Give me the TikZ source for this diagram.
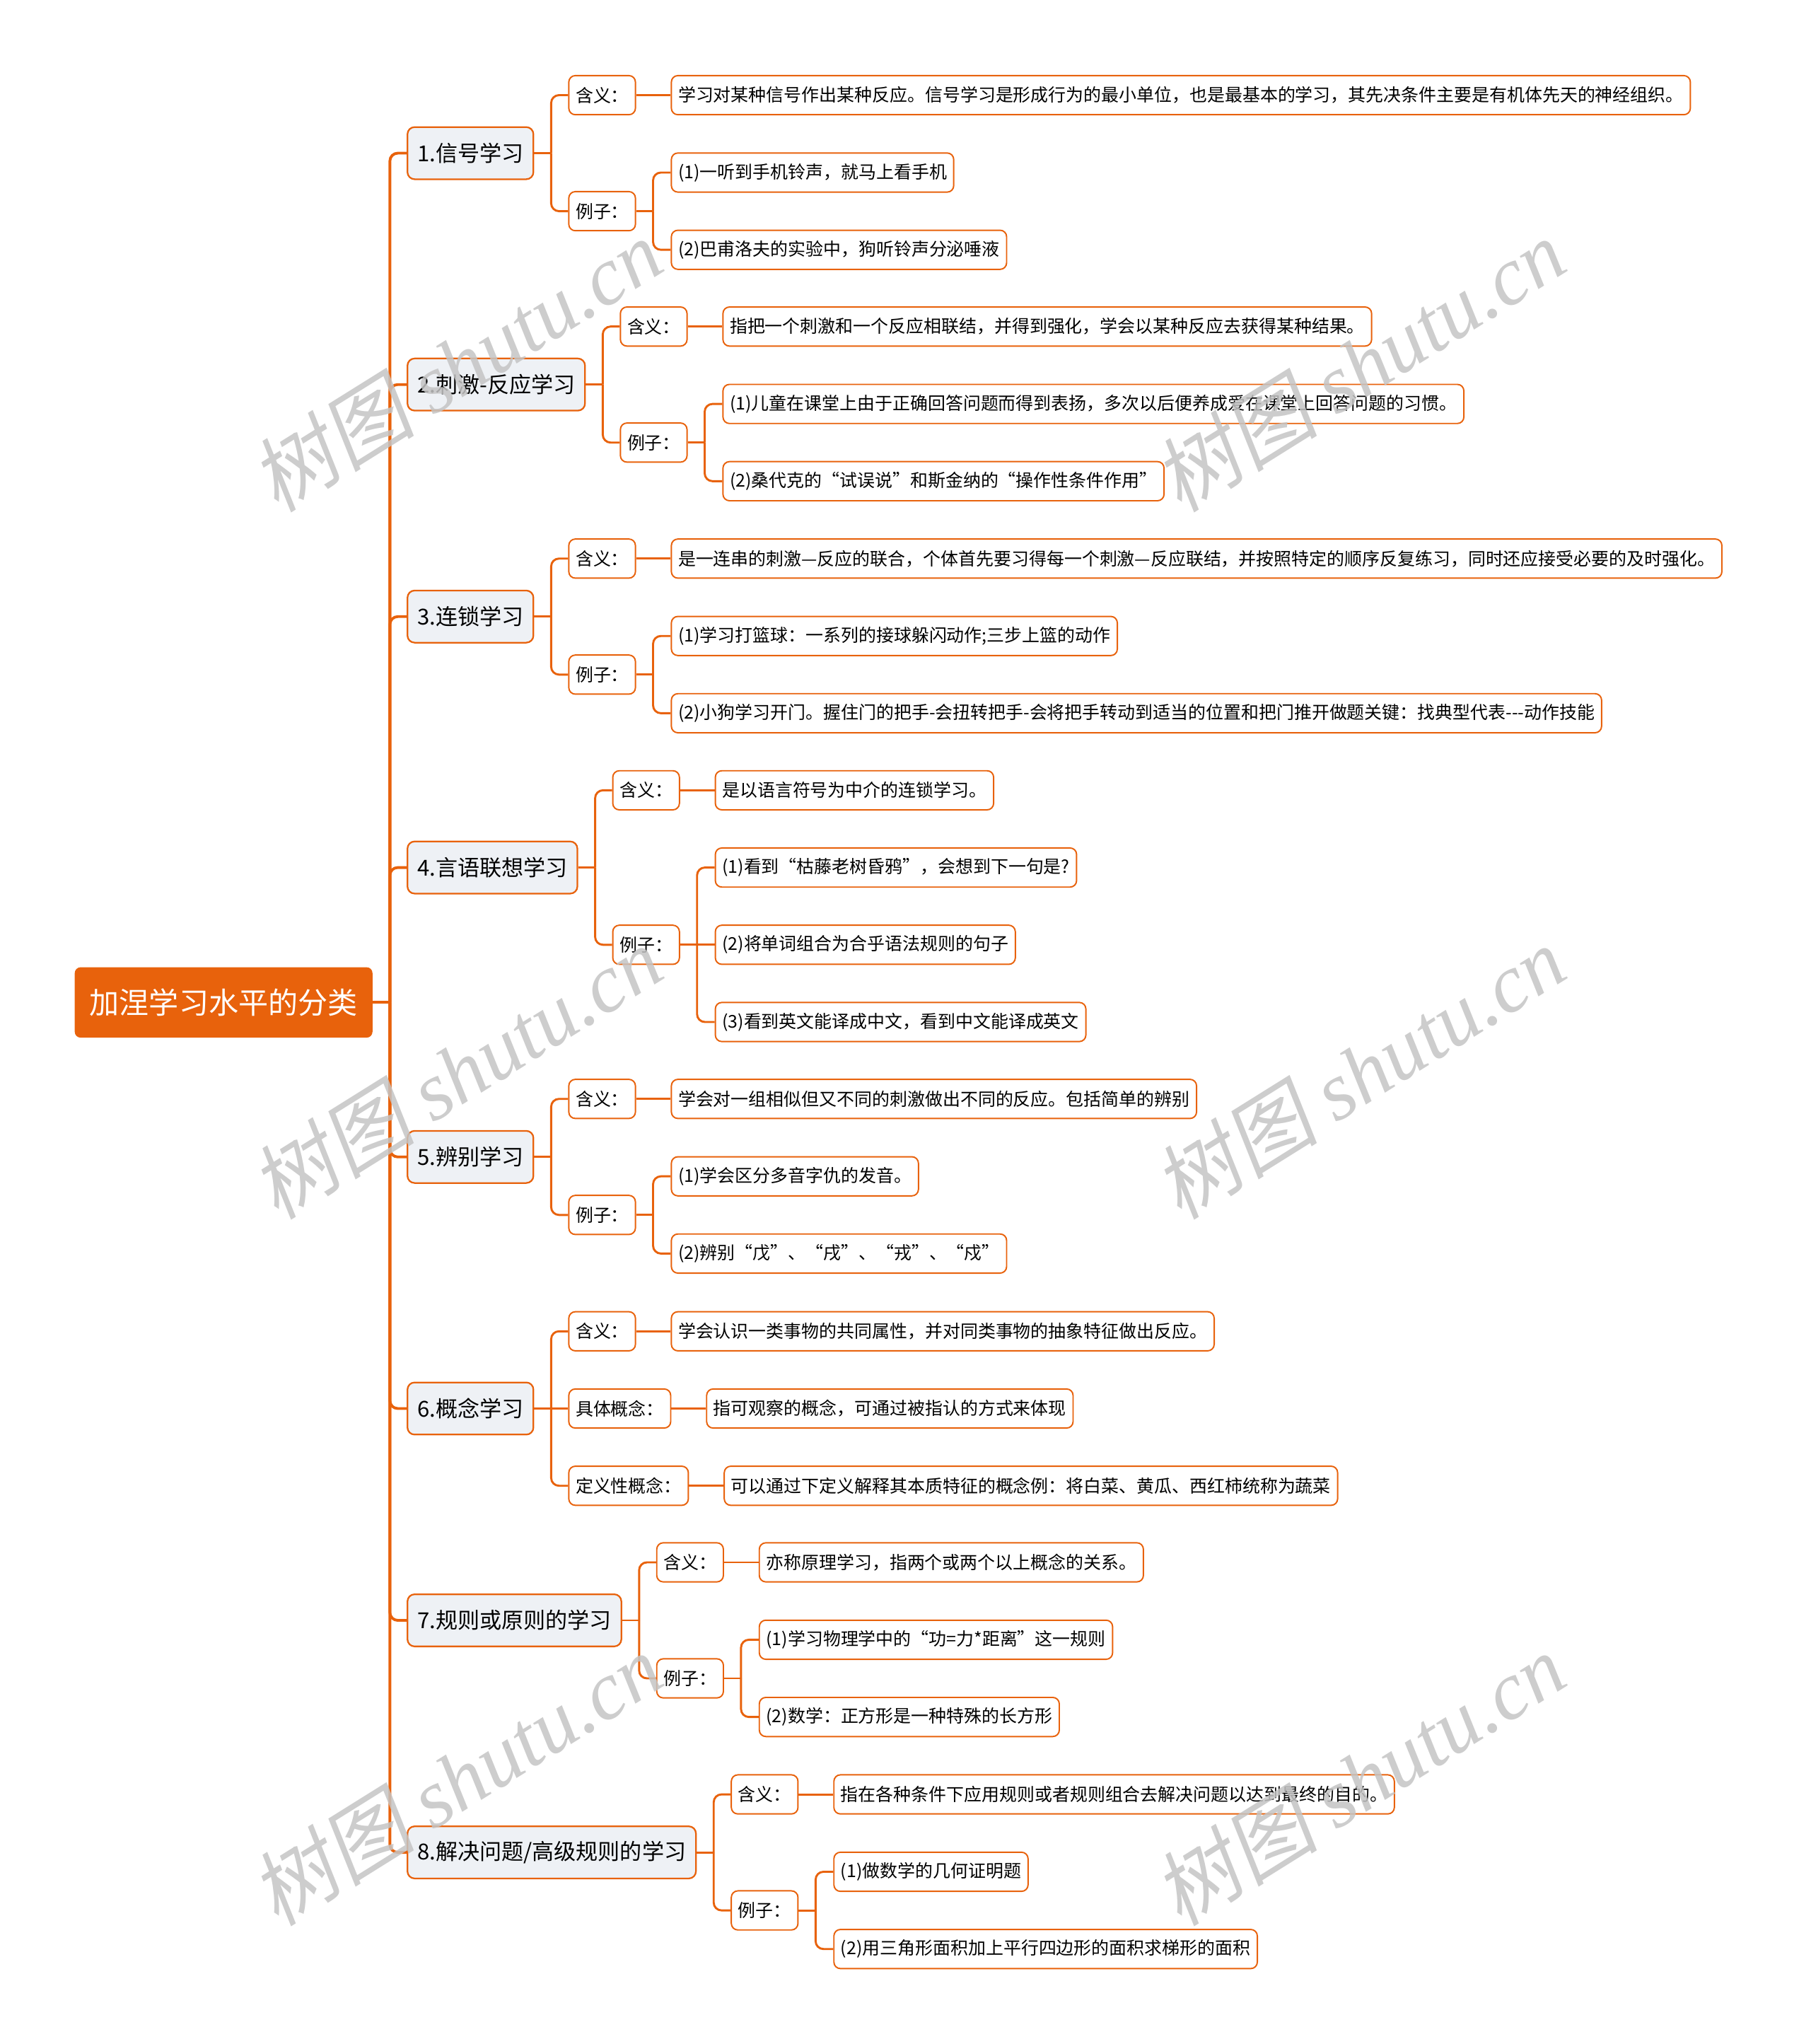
\documentclass[tikz,border=0pt]{standalone}
\usepackage{fontspec}
\setmainfont{Noto Sans CJK SC}
\newfontfamily\wmcjk[FakeSlant=0.18]{Noto Sans CJK SC}
\newfontfamily\wmlatin{Liberation Serif}
\usepackage{xcolor}
\usepackage{tikz}
\usetikzlibrary{positioning}

\definecolor{mmOrange}{RGB}{232,98,12}
\definecolor{catFill}{RGB}{238,241,245}
\definecolor{wmGray}{RGB}{196,196,196}

\begin{document}
\begin{tikzpicture}[
  rootbox/.style={fill=mmOrange, text=white, rounded corners=0.09cm, inner xsep=6.5pt, minimum height=1.08cm, font=\fontsize{13}{15}\selectfont},
  catbox/.style={draw=mmOrange, line width=0.7pt, fill=catFill, rounded corners=0.11cm, inner xsep=4.3pt, minimum height=0.8cm, font=\fontsize{9.6}{11}\selectfont},
  tagbox/.style={draw=mmOrange, line width=0.6pt, fill=white, rounded corners=0.1cm, inner xsep=3pt, minimum height=0.6cm, font=\fontsize{7.7}{9}\selectfont},
  link/.style={mmOrange, line width=1.2pt, rounded corners=0.12cm},
  sublink/.style={mmOrange, line width=0.9pt, rounded corners=0.12cm},
  watermark/.style={text=wmGray, text opacity=0.85, rotate=32, font=\fontsize{36}{40}\selectfont}
]
\useasboundingbox (0,0) rectangle (27.78,-31.36);
\node[rootbox, anchor=west] (root) at (1.14,-15.38) {加涅学习水平的分类};
% eight kinds of learning
\node[catbox, anchor=west] (sig) at (6.24,-2.35) {1.信号学习};
\node[catbox, anchor=west] (stim) at (6.24,-5.90) {2.刺激-反应学习};
\node[catbox, anchor=west] (chain) at (6.24,-9.46) {3.连锁学习};
\node[catbox, anchor=west] (verb) at (6.24,-13.31) {4.言语联想学习};
\node[catbox, anchor=west] (discr) at (6.24,-17.75) {5.辨别学习};
\node[catbox, anchor=west] (concept) at (6.24,-21.61) {6.概念学习};
\node[catbox, anchor=west] (rule) at (6.24,-24.86) {7.规则或原则的学习};
\node[catbox, anchor=west] (solve) at (6.24,-28.42) {8.解决问题/高级规则的学习};
% 1
\node[tagbox, right=0.52cm of sig, yshift=0.89cm] (sigMean) {含义：};
\node[tagbox, right=0.52cm of sig, yshift=-0.89cm] (sigEx) {例子：};
\node[tagbox, right=0.53cm of sigMean] (sigMeanTxt) {学习对某种信号作出某种反应。信号学习是形成行为的最小单位，也是最基本的学习，其先决条件主要是有机体先天的神经组织。};
\node[tagbox, right=0.53cm of sigEx, yshift=0.5925cm] (sigEx1) {(1)一听到手机铃声，就马上看手机};
\node[tagbox, right=0.53cm of sigEx, yshift=-0.5925cm] (sigEx2) {(2)巴甫洛夫的实验中，狗听铃声分泌唾液};
% 2
\node[tagbox, right=0.52cm of stim, yshift=0.89cm] (stimMean) {含义：};
\node[tagbox, right=0.52cm of stim, yshift=-0.89cm] (stimEx) {例子：};
\node[tagbox, right=0.53cm of stimMean] (stimMeanTxt) {指把一个刺激和一个反应相联结，并得到强化，学会以某种反应去获得某种结果。};
\node[tagbox, right=0.53cm of stimEx, yshift=0.5925cm] (stimEx1) {(1)儿童在课堂上由于正确回答问题而得到表扬，多次以后便养成爱在课堂上回答问题的习惯。};
\node[tagbox, right=0.53cm of stimEx, yshift=-0.5925cm] (stimEx2) {(2)桑代克的“试误说”和斯金纳的“操作性条件作用”};
% 3
\node[tagbox, right=0.52cm of chain, yshift=0.89cm] (chainMean) {含义：};
\node[tagbox, right=0.52cm of chain, yshift=-0.89cm] (chainEx) {例子：};
\node[tagbox, right=0.53cm of chainMean] (chainMeanTxt) {是一连串的刺激—反应的联合，个体首先要习得每一个刺激—反应联结，并按照特定的顺序反复练习，同时还应接受必要的及时强化。};
\node[tagbox, right=0.53cm of chainEx, yshift=0.5925cm] (chainEx1) {(1)学习打篮球：一系列的接球躲闪动作;三步上篮的动作};
\node[tagbox, right=0.53cm of chainEx, yshift=-0.5925cm] (chainEx2) {(2)小狗学习开门。握住门的把手-会扭转把手-会将把手转动到适当的位置和把门推开做题关键：找典型代表-{}-{}-动作技能};
% 4
\node[tagbox, right=0.52cm of verb, yshift=1.185cm] (verbMean) {含义：};
\node[tagbox, right=0.52cm of verb, yshift=-1.185cm] (verbEx) {例子：};
\node[tagbox, right=0.53cm of verbMean] (verbMeanTxt) {是以语言符号为中介的连锁学习。};
\node[tagbox, right=0.53cm of verbEx, yshift=1.185cm] (verbEx1) {(1)看到“枯藤老树昏鸦”，会想到下一句是?};
\node[tagbox, right=0.53cm of verbEx] (verbEx2) {(2)将单词组合为合乎语法规则的句子};
\node[tagbox, right=0.53cm of verbEx, yshift=-1.185cm] (verbEx3) {(3)看到英文能译成中文，看到中文能译成英文};
% 5
\node[tagbox, right=0.52cm of discr, yshift=0.89cm] (discrMean) {含义：};
\node[tagbox, right=0.52cm of discr, yshift=-0.89cm] (discrEx) {例子：};
\node[tagbox, right=0.53cm of discrMean] (discrMeanTxt) {学会对一组相似但又不同的刺激做出不同的反应。包括简单的辨别};
\node[tagbox, right=0.53cm of discrEx, yshift=0.5925cm] (discrEx1) {(1)学会区分多音字仇的发音。};
\node[tagbox, right=0.53cm of discrEx, yshift=-0.5925cm] (discrEx2) {(2)辨别“戊”、“戌”、“戎”、“戍”};
% 6
\node[tagbox, right=0.52cm of concept, yshift=1.185cm] (conMean) {含义：};
\node[tagbox, right=0.52cm of concept] (conConcrete) {具体概念：};
\node[tagbox, right=0.52cm of concept, yshift=-1.185cm] (conDefined) {定义性概念：};
\node[tagbox, right=0.53cm of conMean] (conMeanTxt) {学会认识一类事物的共同属性，并对同类事物的抽象特征做出反应。};
\node[tagbox, right=0.53cm of conConcrete] (conConcreteTxt) {指可观察的概念，可通过被指认的方式来体现};
\node[tagbox, right=0.53cm of conDefined] (conDefinedTxt) {可以通过下定义解释其本质特征的概念例：将白菜、黄瓜、西红柿统称为蔬菜};
% 7
\node[tagbox, right=0.52cm of rule, yshift=0.89cm] (ruleMean) {含义：};
\node[tagbox, right=0.52cm of rule, yshift=-0.89cm] (ruleEx) {例子：};
\node[tagbox, right=0.53cm of ruleMean] (ruleMeanTxt) {亦称原理学习，指两个或两个以上概念的关系。};
\node[tagbox, right=0.53cm of ruleEx, yshift=0.5925cm] (ruleEx1) {(1)学习物理学中的“功=力*距离”这一规则};
\node[tagbox, right=0.53cm of ruleEx, yshift=-0.5925cm] (ruleEx2) {(2)数学：正方形是一种特殊的长方形};
% 8
\node[tagbox, right=0.52cm of solve, yshift=0.89cm] (solveMean) {含义：};
\node[tagbox, right=0.52cm of solve, yshift=-0.89cm] (solveEx) {例子：};
\node[tagbox, right=0.53cm of solveMean] (solveMeanTxt) {指在各种条件下应用规则或者规则组合去解决问题以达到最终的目的。};
\node[tagbox, right=0.53cm of solveEx, yshift=0.5925cm] (solveEx1) {(1)做数学的几何证明题};
\node[tagbox, right=0.53cm of solveEx, yshift=-0.5925cm] (solveEx2) {(2)用三角形面积加上平行四边形的面积求梯形的面积};
% connectors
\draw[link] (root.east) -- ++(0.26,0) coordinate (j-root);
\foreach \c in {sig,stim,chain,verb,discr,concept,rule,solve} \draw[link] (j-root) |- (\c.west);
\foreach \p/\kids in {sig/{sigMean,sigEx}, sigEx/{sigEx1,sigEx2}, stim/{stimMean,stimEx}, stimEx/{stimEx1,stimEx2}, chain/{chainMean,chainEx}, chainEx/{chainEx1,chainEx2}, verb/{verbMean,verbEx}, verbEx/{verbEx1,verbEx3}, discr/{discrMean,discrEx}, discrEx/{discrEx1,discrEx2}, concept/{conMean,conDefined}, rule/{ruleMean,ruleEx}, ruleEx/{ruleEx1,ruleEx2}, solve/{solveMean,solveEx}, solveEx/{solveEx1,solveEx2}} {
  \draw[sublink] (\p.east) -- ++(0.26,0) coordinate (j-\p);
  \foreach \c in \kids \draw[sublink] (j-\p) |- (\c.west);
}
\foreach \a/\b in {sigMean/sigMeanTxt, stimMean/stimMeanTxt, chainMean/chainMeanTxt, verbMean/verbMeanTxt, verbEx/verbEx2, discrMean/discrMeanTxt, concept/conConcrete, conMean/conMeanTxt, conConcrete/conConcreteTxt, conDefined/conDefinedTxt, ruleMean/ruleMeanTxt, solveMean/solveMeanTxt} \draw[sublink] (\a) -- (\b);
% watermarks
\foreach \x/\y [count=\i] in {7.0/-5.6, 20.86/-5.6, 7.0/-16.45, 20.86/-16.45, 7.0/-27.3, 20.86/-27.3}
  \node[watermark] (wm\i) at (\x,\y) {{\wmcjk 树图} {\wmlatin\itshape shutu.cn}};
\end{tikzpicture}
\end{document}
